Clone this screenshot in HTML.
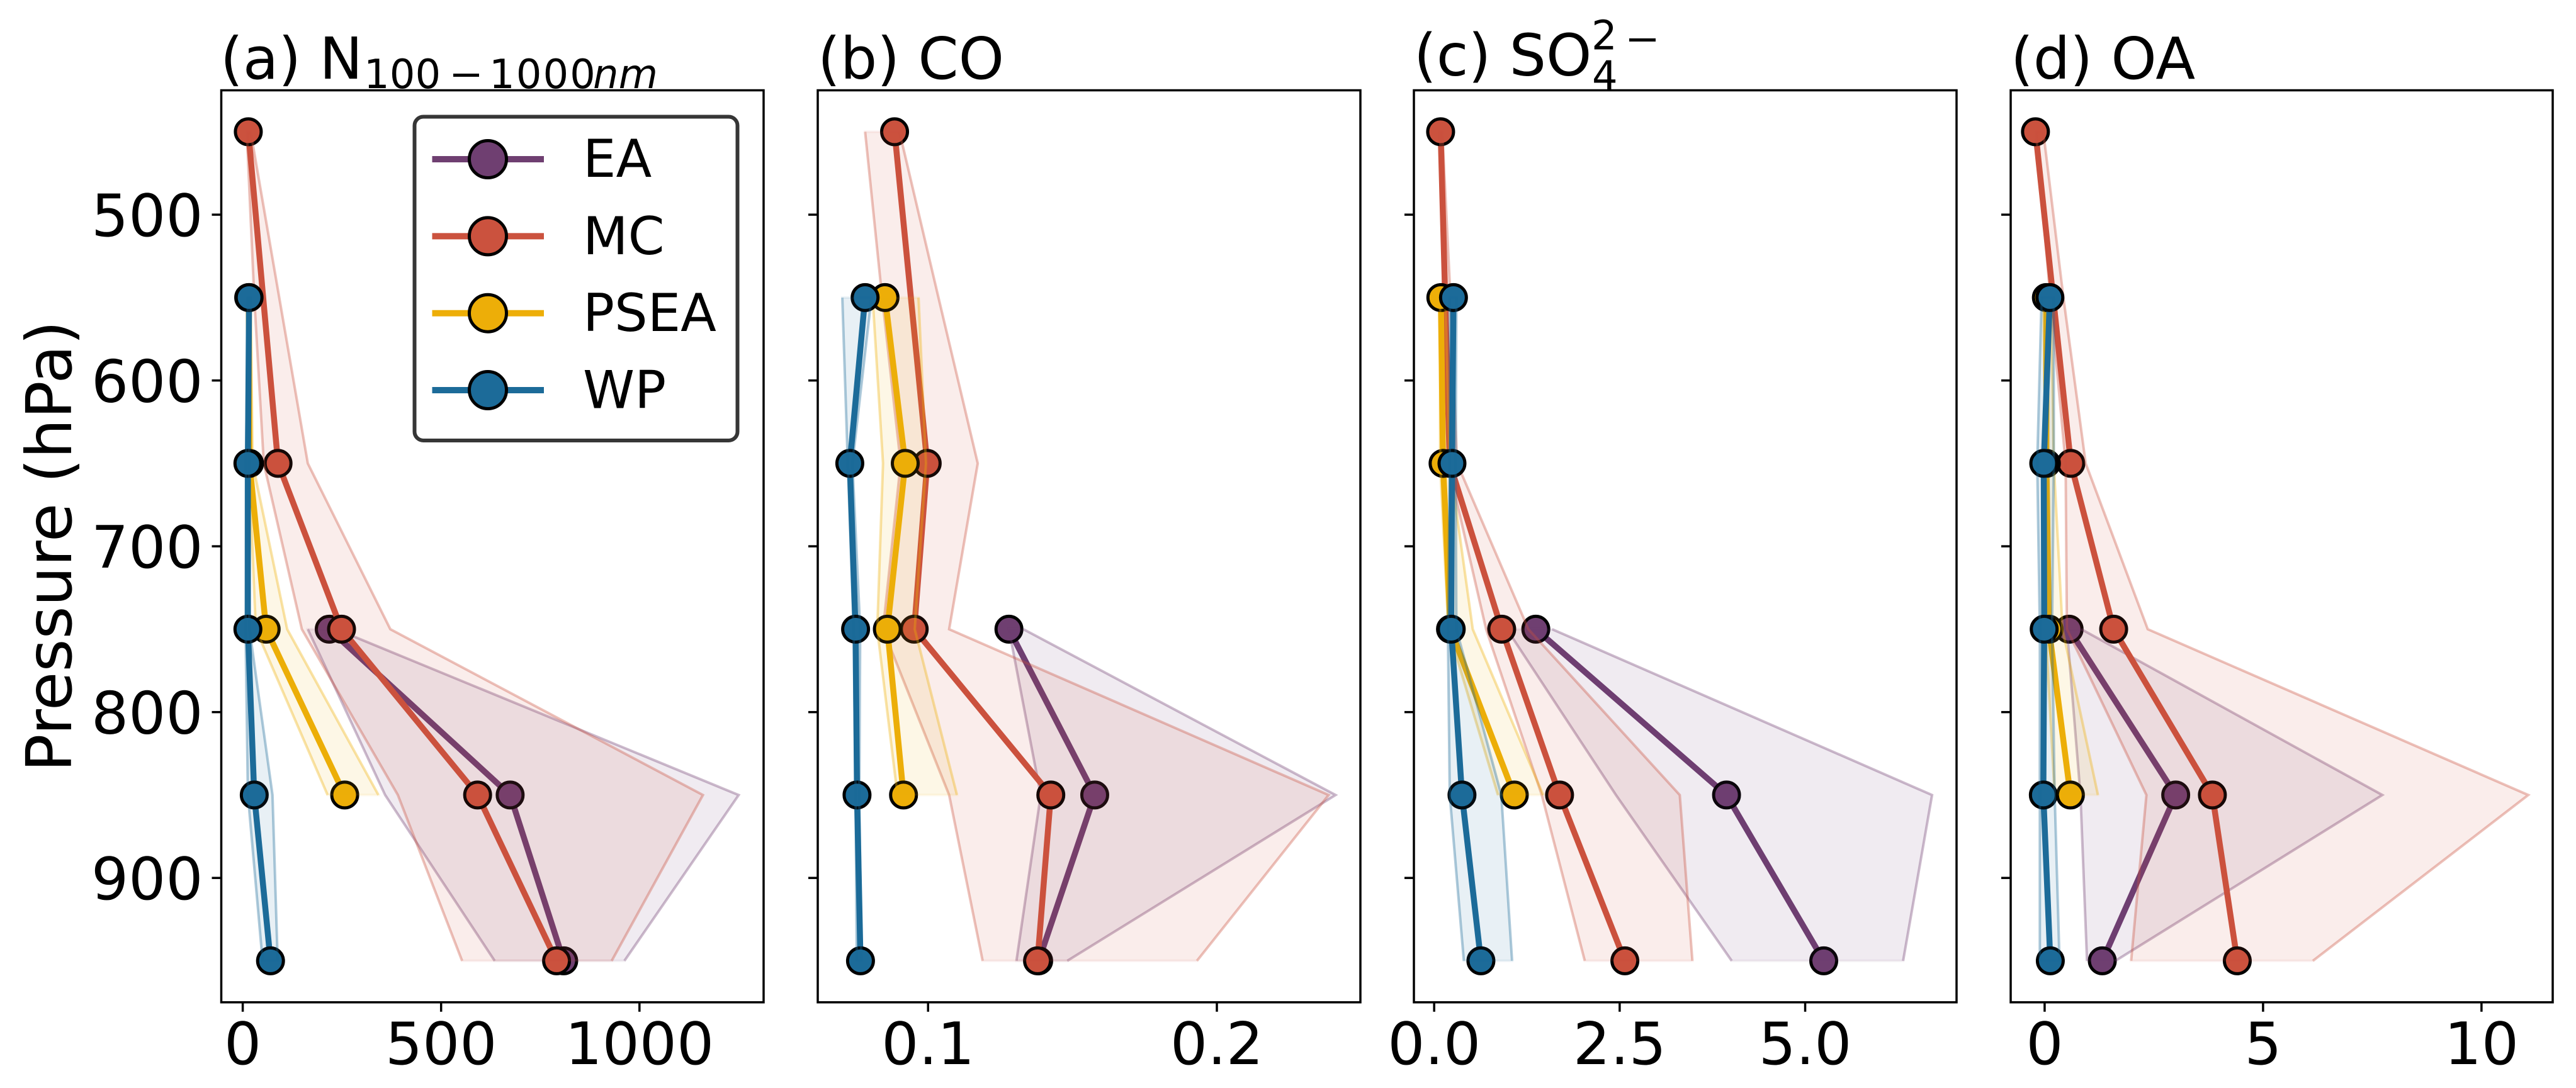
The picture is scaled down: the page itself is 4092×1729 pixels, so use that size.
<!DOCTYPE html>
<html lang="en">
<head>
<meta charset="utf-8">
<title>Vertical profiles by region</title>
<style>
html,body{margin:0;padding:0;background:#fff;}
svg{display:block;}
text{font-family:"DejaVu Sans","Liberation Sans",sans-serif;fill:#000;}
</style>
</head>
<body>
<svg id="chart" xmlns="http://www.w3.org/2000/svg" width="4092" height="1729" viewBox="0 0 4092 1729">
<rect x="0" y="0" width="4092" height="1729" fill="#fff"/>
<g id="panels"></g>

<text transform="translate(113,868) rotate(-90)" text-anchor="middle" font-size="100">Pressure (hPa)</text>

<g>
<text x="350" y="125" font-size="92">(a) N</text>
<text x="578" y="140" font-size="64">100</text>
<rect x="720" y="117" width="41" height="5"/>
<text x="777" y="140" font-size="64" letter-spacing="2">1000</text>
<text x="942" y="140" font-size="64" font-style="italic">nm</text>
</g>
<text x="1299" y="125" font-size="92">(b) CO</text>
<g>
<text x="2246" y="119.5" font-size="92">(c) SO</text>
<text x="2529" y="142.5" font-size="64">4</text>
<text x="2528" y="78.5" font-size="64">2</text>
<rect x="2588" y="61" width="42" height="5"/>
</g>
<text x="3194" y="125" font-size="92">(d) OA</text>

<g>
<rect x="658.5" y="185.5" width="513" height="514.5" rx="14" ry="14" fill="#fff" fill-opacity="0.95" stroke="#363636" stroke-width="6"/>
<g>
<line x1="686.5" x2="864" y1="253" y2="253" stroke="#6F3F71" stroke-width="10"/>
<circle cx="775" cy="253" r="29.5" fill="#6F3F71" stroke="#000" stroke-width="5"/>
<text x="926" y="281" font-size="83">EA</text>
</g>
<g>
<line x1="686.5" x2="864" y1="375.4" y2="375.4" stroke="#CB523E" stroke-width="10"/>
<circle cx="775" cy="375.4" r="29.5" fill="#CB523E" stroke="#000" stroke-width="5"/>
<text x="926" y="404" font-size="83">MC</text>
</g>
<g>
<line x1="686.5" x2="864" y1="497.7" y2="497.7" stroke="#EDAE08" stroke-width="10"/>
<circle cx="775" cy="497.7" r="29.5" fill="#EDAE08" stroke="#000" stroke-width="5"/>
<text x="926" y="526" font-size="83">PSEA</text>
</g>
<g>
<line x1="686.5" x2="864" y1="620" y2="620" stroke="#1C6B99" stroke-width="10"/>
<circle cx="775" cy="620" r="29.5" fill="#1C6B99" stroke="#000" stroke-width="5"/>
<text x="926" y="648.5" font-size="83">WP</text>
</g>
</g>
</svg>

<script>
// ---- shared categories ----
const levels = [450, 550, 650, 750, 850, 950];
const yTicks = [500, 600, 700, 800, 900];
const seriesNames = ['EA', 'MC', 'PSEA', 'WP'];

// ---- panel (a) N100-1000nm ----
const aTicks = [0, 500, 1000];
const aTickLabels = ['0', '500', '1000'];
const aXDomain = [-54.1, 1312.9];
const aEAMean = [null, null, null, 218, 674, 809];
const aEALow = [null, null, null, 164, 359, 635];
const aEAHigh = [null, null, null, 235, 1250, 962];
const aMCMean = [14, null, 89, 249, 592, 791];
const aMCLow = [10, 29, 53, 149, 391, 553];
const aMCHigh = [20, 92, 164, 372, 1160, 930];
const aPSEAMean = [null, 15, 17, 59, 257, null];
const aPSEALow = [null, 12, 15, 33, 214, null];
const aPSEAHigh = [null, 20, 25, 112, 342, null];
const aWPMean = [null, 16, 13, 13, 29, 70];
const aWPLow = [null, 13, 8, 7, 13, 50];
const aWPHigh = [null, 20, 16, 17, 75, 88];

// ---- panel (b) CO ----
const bTicks = [0.1, 0.2];
const bTickLabels = ['0.1', '0.2'];
const bXDomain = [0.0618, 0.2497];
const bEAMean = [null, null, null, 0.128, 0.1577, 0.1383];
const bEALow = [null, null, null, 0.128, 0.139, 0.1306];
const bEAHigh = [null, null, null, 0.133, 0.2411, 0.1482];
const bMCMean = [0.0884, null, 0.0997, 0.0952, 0.1425, 0.1379];
const bMCLow = [0.0782, 0.0841, 0.0905, 0.0844, 0.1073, 0.1189];
const bMCHigh = [0.0901, 0.1036, 0.1172, 0.1073, 0.2387, 0.1931];
const bPSEAMean = [null, 0.0851, 0.0921, 0.0859, 0.0915, null];
const bPSEALow = [null, 0.0808, 0.0844, 0.0824, 0.0894, null];
const bPSEAHigh = [null, 0.0967, 0.0993, 0.0954, 0.11, null];
const bWPMean = [null, 0.0782, 0.0729, 0.0749, 0.0754, 0.0766];
const bWPLow = [null, 0.0703, 0.0722, 0.0742, 0.0749, 0.0753];
const bWPHigh = [null, 0.0804, 0.0738, 0.0765, 0.0762, 0.0769];

// ---- panel (c) SO4 ----
const cTicks = [0, 2.5, 5];
const cTickLabels = ['0.0', '2.5', '5.0'];
const cXDomain = [-0.273, 7.04];
const cEAMean = [null, null, null, 1.37, 3.94, 5.25];
const cEALow = [null, null, null, 0.98, 2.45, 4.01];
const cEAHigh = [null, null, null, 1.59, 6.71, 6.32];
const cMCMean = [0.087, null, 0.21, 0.91, 1.69, 2.57];
const cMCLow = [0.08, 0.13, 0.185, 0.7, 1.45, 2.03];
const cMCHigh = [0.11, 0.22, 0.31, 1.27, 3.31, 3.48];
const cPSEAMean = [null, 0.09, 0.12, 0.22, 1.08, null];
const cPSEALow = [null, 0.08, 0.08, 0.19, 0.86, null];
const cPSEAHigh = [null, 0.15, 0.21, 0.52, 1.47, null];
const cWPMean = [null, 0.26, 0.24, 0.23, 0.375, 0.63];
const cWPLow = [null, 0.21, 0.21, 0.185, 0.21, 0.4];
const cWPHigh = [null, 0.3, 0.29, 0.3, 0.905, 1.05];

// ---- panel (d) OA ----
const dTicks = [0, 5, 10];
const dTickLabels = ['0', '5', '10'];
const dXDomain = [-0.777, 11.63];
const dEAMean = [null, null, null, 0.56, 3, 1.32];
const dEALow = [null, null, null, 0.51, 0.82, 0.97];
const dEAHigh = [null, null, null, 0.84, 7.73, 1.62];
const dMCMean = [-0.21, null, 0.6, 1.58, 3.84, 4.41];
const dMCLow = [-0.2, 0.13, 0.48, 0.51, 2.33, 1.98];
const dMCHigh = [-0.03, 0.43, 0.94, 2.36, 11.07, 6.14];
const dPSEAMean = [null, 0.04, 0.04, 0.1, 0.59, null];
const dPSEALow = [null, -0.03, 0.02, 0.02, 0.23, null];
const dPSEAHigh = [null, 0.15, 0.21, 0.41, 1.22, null];
const dWPMean = [null, 0.12, -0.02, -0.01, -0.03, 0.13];
const dWPLow = [null, -0.07, -0.17, -0.11, -0.11, -0.11];
const dWPHigh = [null, 0.21, 0.21, 0.17, 0.23, 0.34];

// ---- layout & style (not data) ----
const NS = 'http://www.w3.org/2000/svg';
const seriesColors = { EA: '#6F3F71', MC: '#CB523E', PSEA: '#EDAE08', WP: '#1C6B99' };
const plotTop = 143.5;
const plotBottom = 1592.8;
const yDomain = [425, 975];
const panelBoxes = [
  { key: 'a', left: 351.5, right: 1213 },
  { key: 'b', left: 1299, right: 2161 },
  { key: 'c', left: 2246, right: 3108 },
  { key: 'd', left: 3194, right: 4055 }
];
const panelData = {
  a: { domain: aXDomain, ticks: aTicks, labels: aTickLabels,
       EA: [aEAMean, aEALow, aEAHigh], MC: [aMCMean, aMCLow, aMCHigh], PSEA: [aPSEAMean, aPSEALow, aPSEAHigh], WP: [aWPMean, aWPLow, aWPHigh] },
  b: { domain: bXDomain, ticks: bTicks, labels: bTickLabels,
       EA: [bEAMean, bEALow, bEAHigh], MC: [bMCMean, bMCLow, bMCHigh], PSEA: [bPSEAMean, bPSEALow, bPSEAHigh], WP: [bWPMean, bWPLow, bWPHigh] },
  c: { domain: cXDomain, ticks: cTicks, labels: cTickLabels,
       EA: [cEAMean, cEALow, cEAHigh], MC: [cMCMean, cMCLow, cMCHigh], PSEA: [cPSEAMean, cPSEALow, cPSEAHigh], WP: [cWPMean, cWPLow, cWPHigh] },
  d: { domain: dXDomain, ticks: dTicks, labels: dTickLabels,
       EA: [dEAMean, dEALow, dEAHigh], MC: [dMCMean, dMCLow, dMCHigh], PSEA: [dPSEAMean, dPSEALow, dPSEAHigh], WP: [dWPMean, dWPLow, dWPHigh] }
};

function yScale(p) {
  return plotTop + (p - yDomain[0]) / (yDomain[1] - yDomain[0]) * (plotBottom - plotTop);
}
function makeXScale(domain, box) {
  return function (v) {
    return box.left + (v - domain[0]) / (domain[1] - domain[0]) * (box.right - box.left);
  };
}
function svgEl(tag, attrs, parent) {
  const node = document.createElementNS(NS, tag);
  Object.keys(attrs).forEach(function (k) { node.setAttribute(k, attrs[k]); });
  parent.appendChild(node);
  return node;
}
function pointsFor(values, xs) {
  const out = [];
  values.forEach(function (v, i) {
    if (v !== null) out.push([xs(v), yScale(levels[i])]);
  });
  return out;
}
function toAttr(pts) {
  return pts.map(function (p) { return p[0].toFixed(2) + ',' + p[1].toFixed(2); }).join(' ');
}

const root = document.getElementById('panels');

panelBoxes.forEach(function (box) {
  const data = panelData[box.key];
  const xs = makeXScale(data.domain, box);

  const panel = svgEl('g', {}, root);
  
  

  const plotBg = svgEl('rect', { x: box.left, y: plotTop, width: box.right - box.left, height: plotBottom - plotTop, fill: '#fff' }, panel);
  
  

  seriesNames.forEach(function (name) {
    const color = seriesColors[name];
    const mean = data[name][0];
    const low = data[name][1];
    const high = data[name][2];
    const lowPts = pointsFor(low, xs);
    const highPts = pointsFor(high, xs);
    const meanPts = pointsFor(mean, xs);

    const group = svgEl('g', {}, panel);
    
    

    const line = svgEl('polyline', { points: toAttr(meanPts), fill: 'none', stroke: color, 'stroke-width': 9.5, 'stroke-linejoin': 'round' }, group);
    
    

    meanPts.forEach(function (p) {
      const dot = svgEl('circle', { cx: p[0].toFixed(2), cy: p[1].toFixed(2), r: 20.5, fill: color, stroke: '#000', 'stroke-width': 5 }, group);
      
      
    });

    const bandPts = lowPts.concat(highPts.slice().reverse());
    const band = svgEl('polygon', { points: toAttr(bandPts), fill: color, 'fill-opacity': 0.1, stroke: color, 'stroke-opacity': 0.08, 'stroke-width': 4 }, group);
    
    

    const edgeLow = svgEl('polyline', { points: toAttr(lowPts), fill: 'none', stroke: color, 'stroke-opacity': 0.3, 'stroke-width': 4, 'stroke-linejoin': 'miter' }, group);
    
    

    const edgeHigh = svgEl('polyline', { points: toAttr(highPts), fill: 'none', stroke: color, 'stroke-opacity': 0.3, 'stroke-width': 4, 'stroke-linejoin': 'miter' }, group);
    
    
  });

  const frame = svgEl('rect', { x: box.left, y: plotTop, width: box.right - box.left, height: plotBottom - plotTop, fill: 'none', stroke: '#000', 'stroke-width': 3.5 }, panel);
  
  

  yTicks.forEach(function (t) {
    const y = yScale(t);
    const tick = svgEl('line', { x1: box.left - 15, x2: box.left, y1: y, y2: y, stroke: '#000', 'stroke-width': 3.5 }, panel);
    
    
    if (box.key === 'a') {
      const label = svgEl('text', { x: box.left - 29, y: y + 34, 'text-anchor': 'end', 'font-size': 93 }, panel);
      label.textContent = String(t);
      
      
    }
  });

  data.ticks.forEach(function (t, i) {
    const x = xs(t);
    const tick = svgEl('line', { x1: x, x2: x, y1: plotBottom, y2: plotBottom + 15, stroke: '#000', 'stroke-width': 3.5 }, panel);
    
    
    const label = svgEl('text', { x: x, y: 1691, 'text-anchor': 'middle', 'font-size': 93 }, panel);
    label.textContent = data.labels[i];
    
    
  });
});
</script>
</body>
</html>
